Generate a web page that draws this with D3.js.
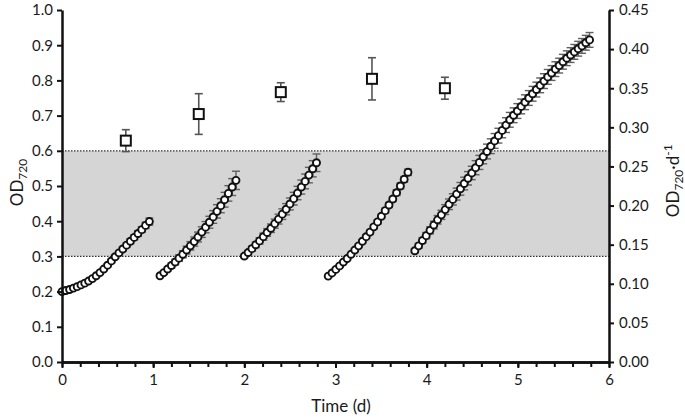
<!DOCTYPE html>
<html>
<head>
<meta charset="utf-8">
<script src="https://cdn.jsdelivr.net/npm/d3@7"></script>
<style>
  body { margin: 0; background: #fff; }
  text { font-family: Lato, "Open Sans", sans-serif; fill: #1a1a1a; }
</style>
</head>
<body>
<svg id="chart" width="685" height="418"></svg>
<script>
// hourly OD720 readings for each dilution cycle (start time in days)
const seg1Start = 0.0
const seg1 = [0.200, 0.203, 0.206, 0.210, 0.214, 0.219, 0.224, 0.230, 0.237, 0.245, 0.254, 0.264,
  0.275, 0.287, 0.299, 0.310, 0.321, 0.332, 0.343, 0.354, 0.365, 0.376, 0.388, 0.399]
const seg1Err = [0.002, 0.002, 0.002, 0.002, 0.002, 0.003, 0.003, 0.003, 0.003, 0.003, 0.004, 0.004,
  0.004, 0.005, 0.005, 0.005, 0.006, 0.006, 0.007, 0.007, 0.008, 0.008, 0.009, 0.010]

const seg2Start = 1.075
const seg2 = [0.245, 0.254, 0.264, 0.274, 0.284, 0.295, 0.306, 0.318, 0.330, 0.342, 0.355, 0.369,
  0.383, 0.397, 0.412, 0.428, 0.444, 0.461, 0.479, 0.497, 0.516]
const seg2Err = [0.004, 0.005, 0.006, 0.007, 0.008, 0.009, 0.010, 0.011, 0.012, 0.013, 0.014, 0.015,
  0.016, 0.017, 0.018, 0.019, 0.020, 0.021, 0.022, 0.024, 0.026]

const seg3Start = 2.0
const seg3 = [0.301, 0.311, 0.322, 0.333, 0.344, 0.356, 0.368, 0.380, 0.393, 0.406, 0.420, 0.434,
  0.449, 0.464, 0.480, 0.497, 0.513, 0.531, 0.549, 0.566]
const seg3Err = [0.005, 0.006, 0.007, 0.008, 0.009, 0.010, 0.011, 0.012, 0.013, 0.014, 0.015, 0.016,
  0.017, 0.018, 0.019, 0.020, 0.021, 0.022, 0.023, 0.025]

const seg4Start = 2.92
const seg4 = [0.244, 0.253, 0.263, 0.273, 0.284, 0.294, 0.306, 0.318, 0.330, 0.343, 0.356, 0.369,
  0.384, 0.398, 0.414, 0.430, 0.446, 0.463, 0.481, 0.500, 0.519, 0.539]
const seg4Err = [0.003, 0.003, 0.003, 0.004, 0.004, 0.004, 0.004, 0.005, 0.005, 0.005, 0.005, 0.006,
  0.006, 0.006, 0.006, 0.007, 0.007, 0.007, 0.008, 0.008, 0.008, 0.009]

const seg5Start = 3.87
const seg5 = [0.316, 0.330, 0.345, 0.359, 0.374, 0.389, 0.404, 0.418, 0.433, 0.448, 0.462, 0.477,
  0.492, 0.507, 0.522, 0.537, 0.552, 0.567, 0.583, 0.598, 0.613, 0.628, 0.643, 0.658, 0.673, 0.688,
  0.701, 0.713, 0.726, 0.738, 0.750, 0.762, 0.774, 0.786, 0.798, 0.810, 0.821, 0.832, 0.842, 0.853,
  0.863, 0.872, 0.881, 0.890, 0.898, 0.907, 0.915]
const seg5Err = [0.006, 0.007, 0.008, 0.009, 0.010, 0.011, 0.012, 0.013, 0.014, 0.015, 0.016, 0.017,
  0.018, 0.018, 0.019, 0.019, 0.020, 0.020, 0.020, 0.021, 0.021, 0.021, 0.021, 0.021, 0.021, 0.021,
  0.021, 0.021, 0.021, 0.021, 0.021, 0.021, 0.021, 0.021, 0.021, 0.021, 0.021, 0.021, 0.021, 0.021,
  0.021, 0.021, 0.021, 0.021, 0.021, 0.021, 0.021]

// growth rate (right axis)
const rateTime = [0.7, 1.5, 2.4, 3.4, 4.2]
const rateVals = [0.283, 0.317, 0.345, 0.362, 0.350]
const rateErr = [0.014, 0.026, 0.012, 0.027, 0.014]

const xTicks = [0, 1, 2, 3, 4, 5, 6]
const yTicks = [0, 0.1, 0.2, 0.3, 0.4, 0.5, 0.6, 0.7, 0.8, 0.9, 1.0]
const y2Ticks = [0, 0.05, 0.10, 0.15, 0.20, 0.25, 0.30, 0.35, 0.40, 0.45]
const band = [0.3, 0.6]

let margin = { top: 10, right: 76, bottom: 56, left: 62 }
let width = 685 - margin.left - margin.right
let height = 418 - margin.top - margin.bottom

let segs = [[seg1Start, seg1, seg1Err], [seg2Start, seg2, seg2Err], [seg3Start, seg3, seg3Err],
  [seg4Start, seg4, seg4Err], [seg5Start, seg5, seg5Err]]
let points = []
segs.forEach(function(s) {
  s[1].forEach(function(v, i) {
    points.push({ t: s[0] + i / 24, v: v, e: s[2][i] })
  })
})

let rates = rateTime.map(function(t, i) {
  return { t: t, v: rateVals[i], e: rateErr[i] }
})

let x = d3.scaleLinear().domain([0, 6]).range([0, width])
let y = d3.scaleLinear().domain([0, 1]).range([height, 0])
let y2 = d3.scaleLinear().domain([0, 0.45]).range([height, 0])

let svg = d3.select("#chart")
let chart = svg.append("g")
  .attr("transform", "translate(" + margin.left + "," + margin.top + ")")

// shaded band
chart.append("rect")
  .attr("x", 0)
  .attr("width", width)
  .attr("y", y(band[1]))
  .attr("height", y(band[0]) - y(band[1]))
  .attr("fill", "#d5d5d5")

chart.selectAll(".bandline")
  .data(band)
  .enter()
  .append("line")
  .attr("x1", 0)
  .attr("x2", width)
  .attr("y1", d => y(d))
  .attr("y2", d => y(d))
  .attr("stroke", "#333")
  .attr("stroke-width", 1.2)
  .attr("stroke-dasharray", "1.5,1.5")

// error bars for OD points
let eb = chart.append("g").attr("stroke", "#606060").attr("stroke-width", 1.4)
points.forEach(function(d) {
  let cx = x(d.t)
  eb.append("line").attr("x1", cx).attr("x2", cx).attr("y1", y(d.v - d.e)).attr("y2", y(d.v + d.e))
  eb.append("line").attr("x1", cx - 4).attr("x2", cx + 4).attr("y1", y(d.v + d.e)).attr("y2", y(d.v + d.e))
  eb.append("line").attr("x1", cx - 4).attr("x2", cx + 4).attr("y1", y(d.v - d.e)).attr("y2", y(d.v - d.e))
})

chart.selectAll(".pt")
  .data(points)
  .enter()
  .append("circle")
  .attr("cx", d => x(d.t))
  .attr("cy", d => y(d.v))
  .attr("r", 3.5)
  .attr("fill", "#fff")
  .attr("stroke", "#111")
  .attr("stroke-width", 1.9)

// rate error bars + squares
let rb = chart.append("g").attr("stroke", "#555").attr("stroke-width", 1.6)
rates.forEach(function(d) {
  let cx = x(d.t)
  rb.append("line").attr("x1", cx).attr("x2", cx).attr("y1", y2(d.v - d.e)).attr("y2", y2(d.v + d.e))
  rb.append("line").attr("x1", cx - 4).attr("x2", cx + 4).attr("y1", y2(d.v + d.e)).attr("y2", y2(d.v + d.e))
  rb.append("line").attr("x1", cx - 4).attr("x2", cx + 4).attr("y1", y2(d.v - d.e)).attr("y2", y2(d.v - d.e))
})

chart.selectAll(".sq")
  .data(rates)
  .enter()
  .append("rect")
  .attr("x", d => x(d.t) - 5)
  .attr("y", d => y2(d.v) - 5)
  .attr("width", 10)
  .attr("height", 10)
  .attr("fill", "#fff")
  .attr("stroke", "#111")
  .attr("stroke-width", 2)

// axes
let xAxis = d3.axisBottom(x).tickValues(xTicks).tickFormat(d3.format("d")).tickSize(6).tickSizeOuter(0)
let xMinor = d3.axisBottom(x).tickValues(d3.range(0, 6.01, 0.2)).tickFormat("").tickSize(5).tickSizeOuter(0)
let yAxis = d3.axisLeft(y).tickValues(yTicks).tickFormat(d3.format(".1f")).tickSize(5).tickSizeOuter(0)
let y2Axis = d3.axisRight(y2).tickValues(y2Ticks).tickFormat(d3.format(".2f")).tickSize(5).tickSizeOuter(0)

function styleAxis(g) {
  g.select(".domain").attr("stroke", "#111").attr("stroke-width", 2.5)
  g.selectAll(".tick line").attr("stroke", "#111").attr("stroke-width", 2)
  g.selectAll(".tick text").attr("font-size", 15).attr("font-family", "Lato, 'Open Sans', sans-serif").attr("fill", "#1a1a1a")
}

chart.append("g").attr("transform", "translate(0," + height + ")").call(xMinor).call(styleAxis)
chart.append("g").attr("id", "x-axis").attr("transform", "translate(0," + height + ")").call(xAxis).call(styleAxis)
  .selectAll(".tick text").attr("dy", "0.9em")
chart.append("g").attr("id", "y-axis").call(yAxis).call(styleAxis)
  .selectAll(".tick text").attr("x", -9)
chart.append("g").attr("id", "y2-axis").attr("transform", "translate(" + width + ",0)").call(y2Axis).call(styleAxis)
  .selectAll(".tick text").attr("x", 10)

// axis titles
svg.append("text")
  .attr("x", 341)
  .attr("y", 412)
  .attr("text-anchor", "middle")
  .attr("font-size", 17)
  .text("Time (d)")

let ly = svg.append("text")
  .attr("transform", "translate(23," + (margin.top + height * 0.49) + ") rotate(-90)")
  .attr("text-anchor", "middle")
  .attr("font-size", 17)
ly.append("tspan").text("OD")
ly.append("tspan").attr("font-size", 12).attr("dy", 4).text("720")

let ry = svg.append("text")
  .attr("transform", "translate(679," + (margin.top + height * 0.485) + ") rotate(-90)")
  .attr("text-anchor", "middle")
  .attr("font-size", 17)
ry.append("tspan").text("OD")
ry.append("tspan").attr("font-size", 12).attr("dy", 4).text("720")
ry.append("tspan").attr("dy", -4).text("\u00b7d")
ry.append("tspan").attr("font-size", 12).attr("dy", -7).text("-1")
</script>
</body>
</html>
